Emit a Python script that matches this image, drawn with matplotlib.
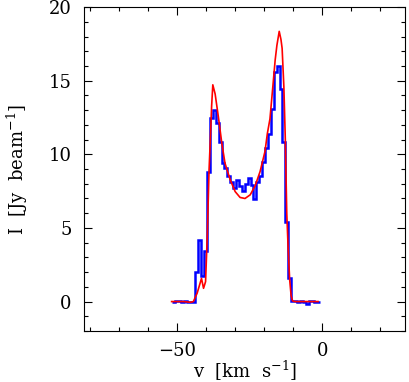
import matplotlib
matplotlib.use("Agg")
import matplotlib.pyplot as plt
from matplotlib.ticker import MultipleLocator

# observed spectrum, channel edges [km/s] and flux [Jy/beam]
chan_edges = [-51.8, -50.8, -49.8, -48.8, -47.8, -46.8, -45.8, -44.8, -43.8,
              -42.8, -41.8, -40.8, -39.8, -38.8, -37.8, -36.8, -35.8, -34.8,
              -33.8, -32.8, -31.8, -30.8, -29.8, -28.8, -27.8, -26.8, -25.8,
              -24.8, -23.8, -22.8, -21.8, -20.8, -19.8, -18.8, -17.8, -16.8,
              -15.8, -14.8, -13.8, -12.8, -11.8, -10.8, -9.8, -8.8, -7.8,
              -6.8, -5.8, -4.8, -3.8, -2.8, -1.8, -0.8]
obs_flux = [0.0, 0.05, 0.05, 0.0, 0.05, 0.0, -0.03, 0.0,
            2.0, 4.2, 1.75, 3.45, 8.77, 12.46, 13.0, 12.16, 10.87, 9.4,
            9.06, 8.5, 8.15, 7.7, 8.27, 7.86, 7.54, 8.0, 8.36, 7.93,
            6.98, 8.1, 8.56, 9.47, 10.4, 11.4, 13.07, 15.58, 15.97, 14.43,
            10.87, 5.37, 1.63,
            0.05, 0.03, 0.0, 0.02, 0.0, -0.2, 0.05, 0.05, -0.05, 0.0]

# model profile
model_v = [-52.0, -48.0, -45.5, -44.5, -43.2, -41.7, -41.0, -40.3, -39.7,
           -39.1, -38.7, -38.2, -37.8, -37.0, -35.9, -34.7, -33.6, -31.8,
           -30.1, -28.4, -26.7, -24.9, -23.2, -21.5, -19.8, -19.0, -18.1,
           -17.1, -16.3, -15.7, -14.9, -14.3, -13.9, -13.3, -12.8, -12.3,
           -11.8, -11.3, -10.8, -10.3, -9.5, -1.5]
model_flux = [0.0, 0.0, -0.05, 0.0, 0.57, 1.57, 0.9, 1.35, 4.5,
              8.9, 10.8, 13.3, 14.72, 14.1, 12.57, 10.76, 9.4, 8.27,
              7.47, 7.07, 7.0, 7.25, 7.86, 8.83, 10.2, 11.4, 12.4,
              14.6, 16.4, 17.4, 18.35, 17.8, 17.2, 14.6, 11.0, 6.0,
              3.5, 1.5, 0.4, 0.05, 0.0, 0.0]

plt.rcParams['font.family'] = ['DejaVu Serif']
plt.rcParams['mathtext.default'] = 'regular'
plt.rcParams['font.size'] = 13

fig = plt.figure(figsize=(4.1, 3.82), dpi=100)
ax = fig.add_axes([0.205, 0.1335, 0.783, 0.848])

ax.stairs(obs_flux, chan_edges, color='#0000ff', linewidth=1.8, baseline=None)
ax.plot(model_v, model_flux, color='#ff0000', linewidth=1.2)

ax.set_xlim(-82.2, 28.5)
ax.set_ylim(-2, 20)
ax.xaxis.set_major_locator(MultipleLocator(50))
ax.xaxis.set_minor_locator(MultipleLocator(10))
ax.yaxis.set_major_locator(MultipleLocator(5))
ax.yaxis.set_minor_locator(MultipleLocator(1))
ax.tick_params(which='both', direction='in', top=True, right=True, width=0.8)
ax.tick_params(which='major', length=6)
ax.tick_params(which='minor', length=3)
ax.tick_params(axis='x', pad=8)
ax.tick_params(axis='y', pad=9)
for s in ax.spines.values():
    s.set_linewidth(0.8)

ax.set_xlabel('v  [km  s$^{-1}$]', labelpad=-1)
ax.set_ylabel('I  [Jy  beam$^{-1}$]', labelpad=13)

fig.savefig('out.png', dpi=100)
